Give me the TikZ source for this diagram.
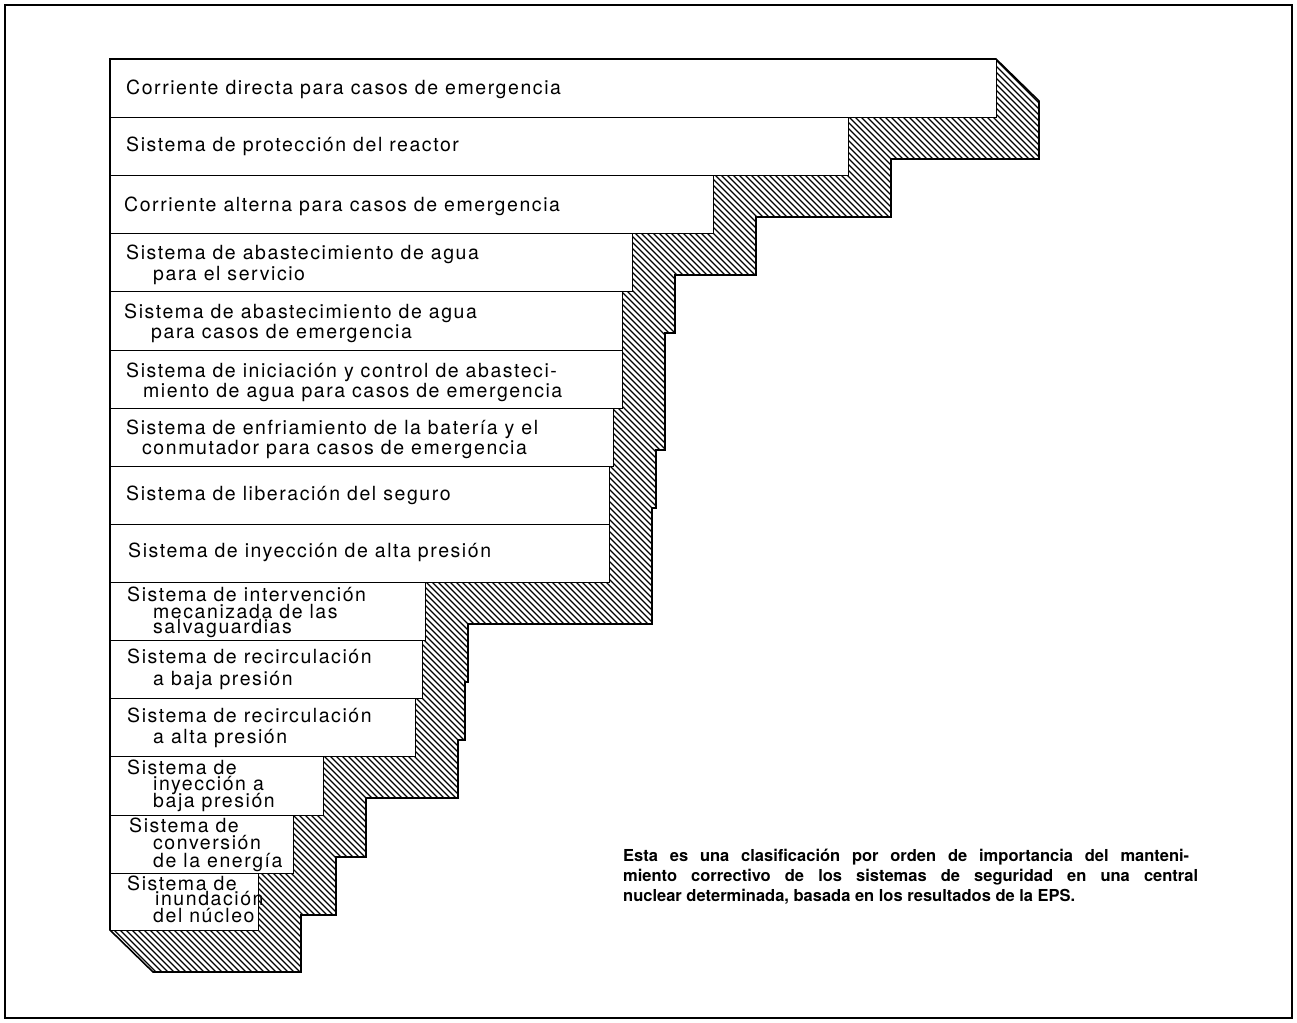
\documentclass[tikz,border=0pt]{standalone}
\usepackage{fontspec}
\setmainfont{TeX Gyre Heros}
\newfontfamily\barfont[LetterSpace=8]{TeX Gyre Heros}
\newfontfamily\capfont{TeX Gyre Heros}
\begin{document}
\begin{tikzpicture}[x=1pt,y=-1pt,
  lbl/.style={inner sep=0pt, anchor=base west, font=\barfont\fontsize{19.5}{21}\selectfont},
  captext/.style={inner sep=0pt, anchor=base west, font=\capfont\bfseries\fontsize{16.5}{20}\selectfont},
  bar/.style={draw=black, line width=1.4pt, fill=white, inner sep=0pt, anchor=north west},
  hatchline/.style={line width=1.1pt},
  shadowedge/.style={draw=black, line width=1.6pt, line join=miter}]
\useasboundingbox (0,0) rectangle (1297,1022);
\draw[line width=2.5pt] (5,5) rectangle (1292,1018);
% hatched extrusion
\def\shadowpath{(996,59) -- (1039,101) -- (1039,159) -- (891,159) -- (891,217) -- (756,217) -- (756,275) -- (675,275) -- (675,333) -- (665,333) -- (665,450) -- (656,450) -- (656,508) -- (652,508) -- (652,624) -- (468,624) -- (468,682) -- (465,682) -- (465,740) -- (458,740) -- (458,798) -- (366,798) -- (366,857) -- (336,857) -- (336,915) -- (301,915) -- (301,972) -- (153,972) -- (110,930) -- (110,59) -- cycle}
\begin{scope}
\clip \shadowpath;
\foreach \c in {-870,-864,...,990} \draw[hatchline] (\c+40,40) -- (\c+1000,1000);
\end{scope}
\draw[shadowedge] \shadowpath;
% bars
\node[bar, minimum width=886pt, minimum height=58pt] (b1) at (110,59) {};
\node[bar, minimum width=738pt, minimum height=58pt] (b2) at (110,117) {};
\node[bar, minimum width=603pt, minimum height=58pt] (b3) at (110,175) {};
\node[bar, minimum width=522pt, minimum height=58pt] (b4) at (110,233) {};
\node[bar, minimum width=512pt, minimum height=59pt] (b5) at (110,291) {};
\node[bar, minimum width=512pt, minimum height=58pt] (b6) at (110,350) {};
\node[bar, minimum width=503pt, minimum height=58pt] (b7) at (110,408) {};
\node[bar, minimum width=499pt, minimum height=58pt] (b8) at (110,466) {};
\node[bar, minimum width=499pt, minimum height=58pt] (b9) at (110,524) {};
\node[bar, minimum width=315pt, minimum height=58pt] (b10) at (110,582) {};
\node[bar, minimum width=312pt, minimum height=58pt] (b11) at (110,640) {};
\node[bar, minimum width=305pt, minimum height=58pt] (b12) at (110,698) {};
\node[bar, minimum width=213pt, minimum height=59pt] (b13) at (110,756) {};
\node[bar, minimum width=183pt, minimum height=58pt] (b14) at (110,815) {};
\node[bar, minimum width=148pt, minimum height=57pt] (b15) at (110,873) {};
% labels
\node[lbl] (t1) at (126,95) {Corriente directa para casos de emergencia};
\node[lbl] (t2) at (126,151) {Sistema de protección del reactor};
\node[lbl] (t3) at (124,211) {Corriente alterna para casos de emergencia};
\node[lbl] (t4a) at (126,259) {Sistema de abastecimiento de agua};
\node[lbl] (t4b) at (153,280) {para el servicio};
\node[lbl] (t5a) at (124,318) {Sistema de abastecimiento de agua};
\node[lbl] (t5b) at (151,338) {para casos de emergencia};
\node[lbl] (t6a) at (126,377) {Sistema de iniciación y control de abasteci-};
\node[lbl] (t6b) at (143,397) {miento de agua para casos de emergencia};
\node[lbl] (t7a) at (126,434) {Sistema de enfriamiento de la batería y el};
\node[lbl] (t7b) at (142,454) {conmutador para casos de emergencia};
\node[lbl] (t8) at (126,500) {Sistema de liberación del seguro};
\node[lbl] (t9) at (128,557) {Sistema de inyección de alta presión};
\node[lbl] (t10a) at (127,601) {Sistema de intervención};
\node[lbl] (t10b) at (153,618) {mecanizada de las};
\node[lbl] (t10c) at (153,633) {salvaguardias};
\node[lbl] (t11a) at (127,663) {Sistema de recirculación};
\node[lbl] (t11b) at (153,685) {a baja presión};
\node[lbl] (t12a) at (127,722) {Sistema de recirculación};
\node[lbl] (t12b) at (153,743) {a alta presión};
\node[lbl] (t13a) at (127,774) {Sistema de};
\node[lbl] (t13b) at (153,790) {inyección a};
\node[lbl] (t13c) at (153,807) {baja presión};
\node[lbl] (t14a) at (129,832) {Sistema de};
\node[lbl] (t14b) at (153,849) {conversión};
\node[lbl] (t14c) at (153,867) {de la energía};
\node[lbl] (t15a) at (127,890) {Sistema de};
\node[lbl] (t15b) at (155,905) {inundación};
\node[lbl] (t15c) at (153,922) {del núcleo};
% caption
\node[captext] (c1) at (623,861) {\hbox to 566pt{Esta es una clasificación por orden de importancia del manteni-}};
\node[captext] (c2) at (623,881) {\hbox to 575pt{miento correctivo de los sistemas de seguridad en una central}};
\node[captext] (c3) at (623,901) {nuclear determinada, basada en los resultados de la EPS.};
\end{tikzpicture}
\end{document}
